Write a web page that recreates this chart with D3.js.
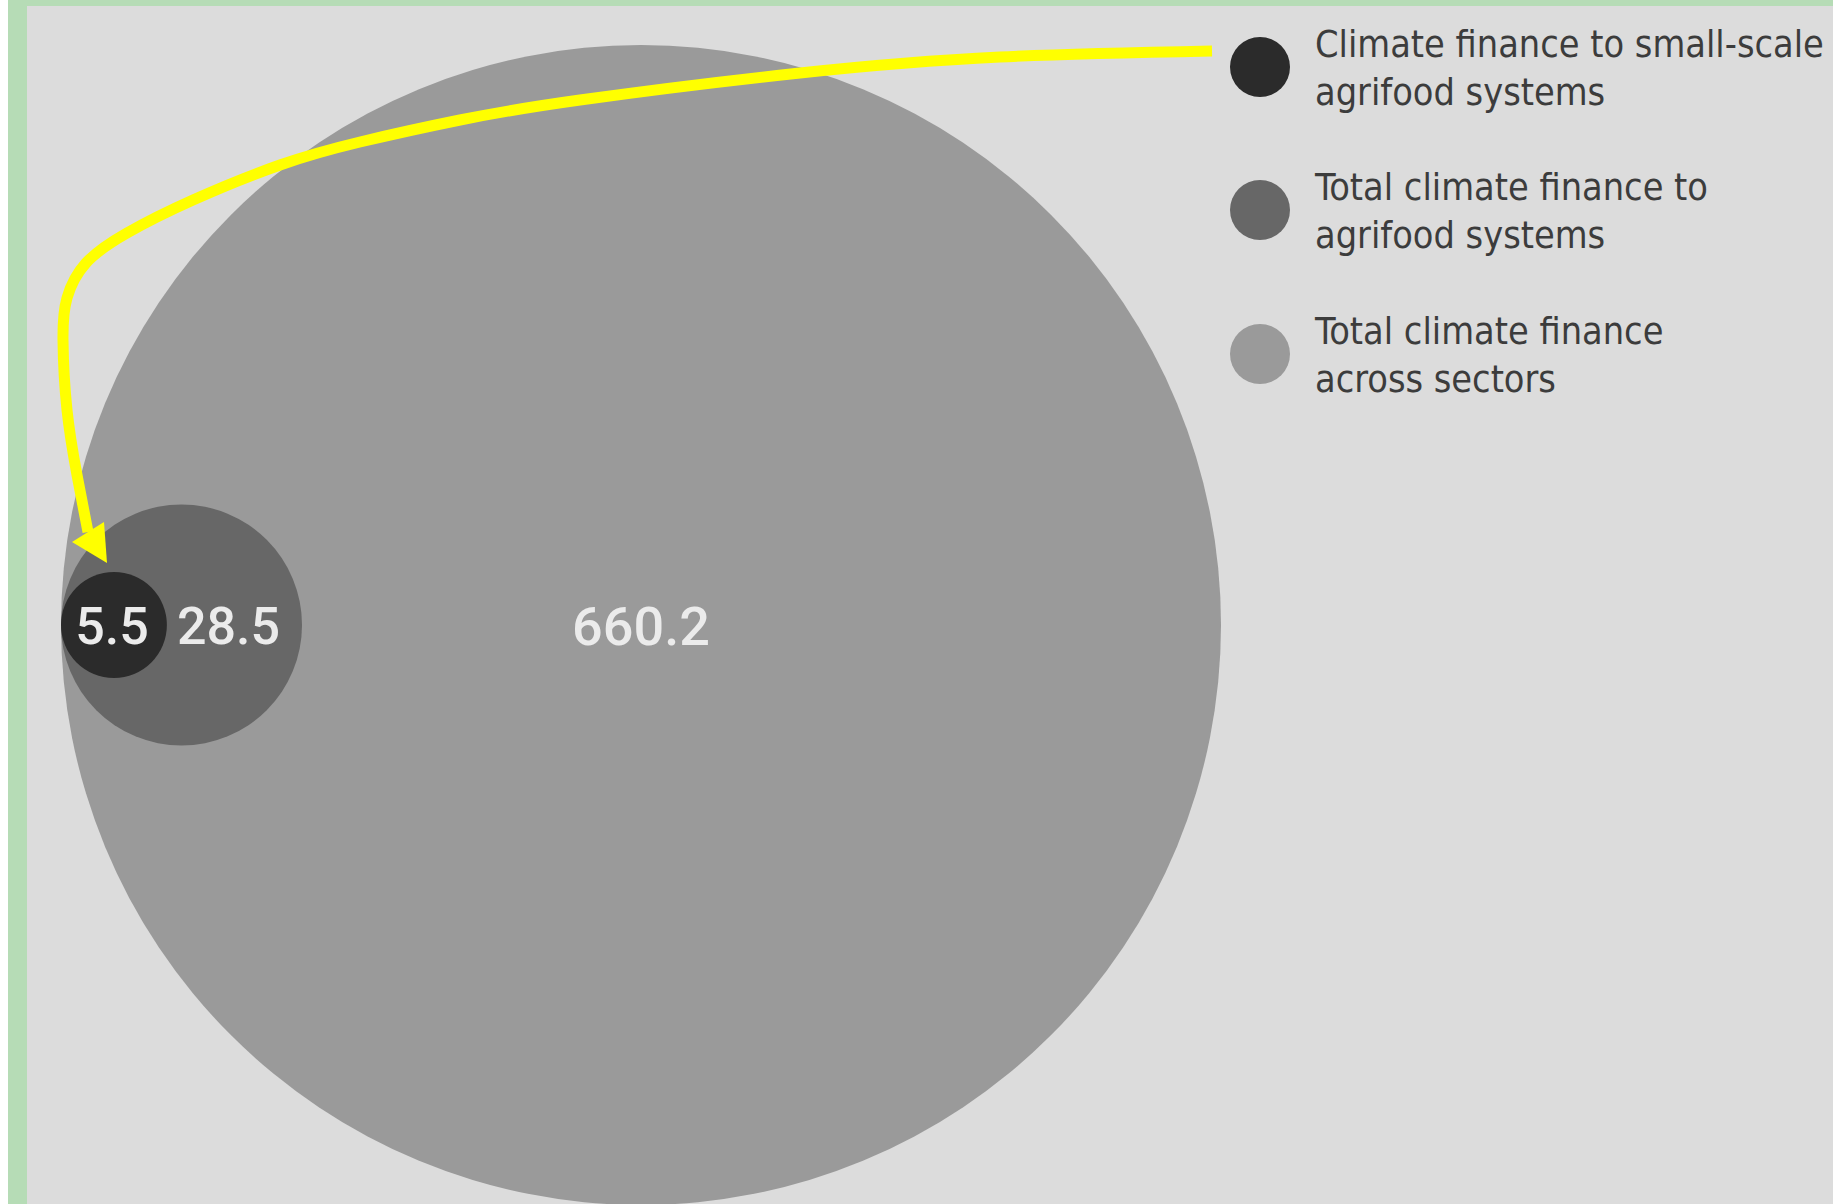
<!DOCTYPE html>
<html>
<head>
<meta charset="utf-8">
<script src="https://cdn.jsdelivr.net/npm/d3@7"></script>
<style>
  html, body { margin: 0; padding: 0; background: #ffffff; }
  svg { display: block; }
</style>
</head>
<body>
<svg id="chart" width="1833" height="1204"></svg>
<script>
// ---- data ----
const categories = [
  "Climate finance to small-scale agrifood systems",
  "Total climate finance to agrifood systems",
  "Total climate finance across sectors"
];
const values = [5.5, 28.5, 660.2];
const valueLabels = ["5.5", "28.5", "660.2"];
const legendLines = [
  ["Climate finance to small-scale", "agrifood systems"],
  ["Total climate finance to", "agrifood systems"],
  ["Total climate finance", "across sectors"]
];
const colors = ["#2b2b2b", "#676767", "#9a9a9a"];
// annotation arrow route (pixel guide points for the yellow callout)
const arrowRoute = [
  [1212, 51], [1000, 57], [800, 73], [580, 100], [460, 120], [360, 142],
  [280, 165], [193, 200], [127, 233], [86, 263], [67, 298], [63, 340],
  [67, 410], [77, 475], [88, 532]
];
const arrowHead = [[107, 563], [72, 542], [104, 522]];

// ---- layout ----
const W = 1833, H = 1204;
const svg = d3.select("#chart");

svg.append("rect").attr("x", 0).attr("y", 0).attr("width", W).attr("height", H).attr("fill", "#ffffff");
svg.append("rect").attr("x", 8).attr("y", 0).attr("width", W - 8).attr("height", H).attr("fill", "#b6dcb6");
svg.append("rect").attr("x", 27).attr("y", 6).attr("width", W - 27).attr("height", H - 6).attr("fill", "#dcdcdc");

const r = d3.scaleSqrt().domain([0, d3.max(values)]).range([0, 580]);
const leftX = 61, cy = 625;

const data = values.map((v, i) => ({
  v, label: valueLabels[i], color: colors[i], name: categories[i],
  r: r(v), cx: leftX + r(v)
}));

// circles: largest first
const order = data.slice().sort((a, b) => b.v - a.v);
svg.append("g").selectAll("circle")
  .data(order)
  .join("circle")
  .attr("cx", d => d.cx)
  .attr("cy", cy)
  .attr("r", d => d.r)
  .attr("fill", d => d.color);

// value labels
const small = data[0], mid = data[1], big = data[2];
const labelX = [small.cx - 2, mid.cx + mid.r * 0.39, big.cx];
const labelSize = [52, 52, 54];
svg.append("g").selectAll("text")
  .data(data)
  .join("text")
  .attr("x", (d, i) => labelX[i])
  .attr("y", (d, i) => cy + labelSize[i] * 0.711 / 2 + 1)
  .attr("text-anchor", "middle")
  .attr("font-family", "Roboto, 'DejaVu Sans', sans-serif")
  .attr("font-weight", 500)
  .attr("font-size", (d, i) => labelSize[i])
  .attr("fill", "#ebebeb")
  .text(d => d.label);

// legend
const legend = svg.append("g");
const legY = [67, 210, 354];
data.forEach((d, i) => {
  legend.append("circle")
    .attr("cx", 1260).attr("cy", legY[i])
    .attr("r", 30)
    .attr("fill", d.color);
  const t = legend.append("text")
    .attr("font-family", "'DejaVu Sans Condensed', 'DejaVu Sans', sans-serif")
    .attr("font-size", 37.5)
    .attr("fill", "#3c3c3c");
  legendLines[i].forEach((line, j) => {
    t.append("tspan")
      .attr("x", 1315)
      .attr("y", legY[i] - 10 + j * 48)
      .text(line);
  });
});

// yellow callout arrow
const line = d3.line().curve(d3.curveNatural);
svg.append("path")
  .attr("d", line(arrowRoute))
  .attr("fill", "none")
  .attr("stroke", "#ffff00")
  .attr("stroke-width", 11);
svg.append("path")
  .attr("d", "M" + arrowHead.map(p => p.join(",")).join("L") + "Z")
  .attr("fill", "#ffff00");
</script>
</body>
</html>
